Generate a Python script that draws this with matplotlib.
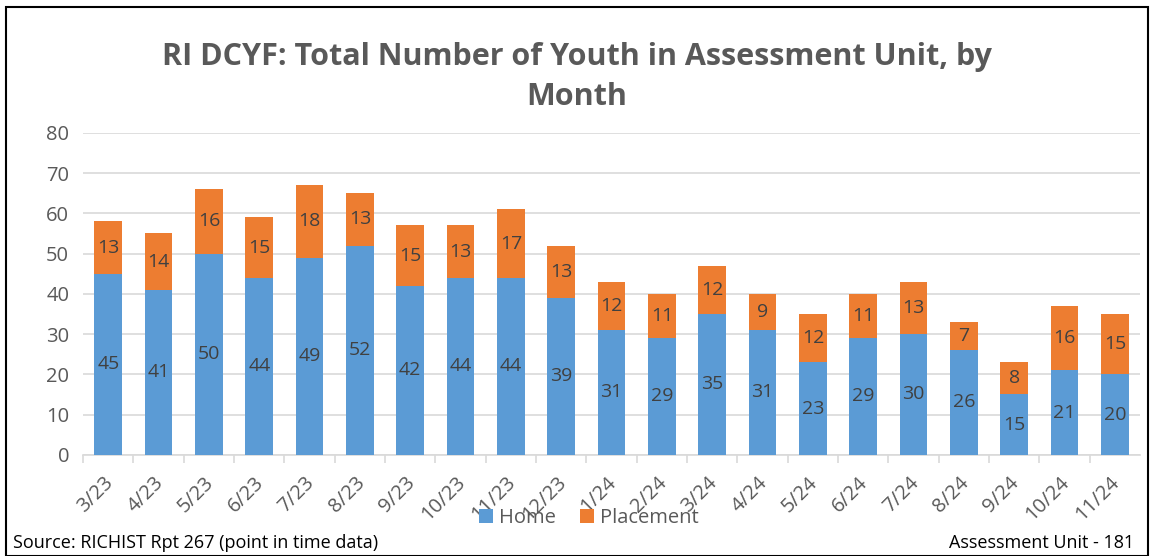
#!/usr/bin/env python3
"""RI DCYF assessment unit youth counts by month, stacked Home / Placement."""

import matplotlib
matplotlib.use("Agg")
import matplotlib.pyplot as plt
import matplotlib.transforms as mtransforms
from matplotlib.patches import Rectangle
import numpy as np

months = ["3/23", "4/23", "5/23", "6/23", "7/23", "8/23", "9/23", "10/23", "11/23",
          "12/23", "1/24", "2/24", "3/24", "4/24", "5/24", "6/24", "7/24", "8/24",
          "9/24", "10/24", "11/24"]
home = [45, 41, 50, 44, 49, 52, 42, 44, 44, 39, 31, 29, 35, 31, 23, 29, 30, 26, 15, 21, 20]
placement = [13, 14, 16, 15, 18, 13, 15, 13, 17, 13, 12, 11, 12, 9, 12, 11, 13, 7, 8, 16, 15]

BLUE = "#5B9BD5"
ORANGE = "#ED7D31"
GREY = "#595959"
LABEL = "#404040"

plt.rcParams["font.family"] = ["Open Sans", "DejaVu Sans"]

fig = plt.figure(figsize=(11.54, 5.56), dpi=100)
ax = fig.add_axes([0.072, 0.182, 0.916, 0.579])

x = np.arange(len(months))
w = 0.55
ax.bar(x, home, w, color=BLUE, label="Home", zorder=3)
ax.bar(x, placement, w, bottom=home, color=ORANGE, label="Placement", zorder=3)

for i in range(len(months)):
    ax.text(x[i], home[i] / 2, str(home[i]), ha="center", va="center",
            fontsize=14, color=LABEL, zorder=4)
    ax.text(x[i], home[i] + placement[i] / 2, str(placement[i]), ha="center",
            va="center", fontsize=14, color=LABEL, zorder=4)

ax.set_xlim(-0.5, len(months) - 0.5)
ax.set_ylim(0, 80)
ax.set_yticks(range(0, 81, 10))
ax.grid(axis="y", color="#D9D9D9", linewidth=1.2, zorder=0)
for s in ["top", "right", "left"]:
    ax.spines[s].set_visible(False)
ax.spines["bottom"].set_color("#D9D9D9")
ax.spines["bottom"].set_linewidth(1.2)

ax.set_xticks(x - 0.5, minor=True)
ax.tick_params(axis="x", which="minor", length=6, color="#D9D9D9", width=1.2)
ax.set_xticks(x)
ax.set_xticklabels(months, rotation=45, ha="right", rotation_mode="anchor")
ax.tick_params(axis="x", which="major", length=0, labelsize=14.5, labelcolor=GREY, pad=13)
ax.tick_params(axis="y", length=0, labelsize=14.5, labelcolor=GREY, pad=10)
shift = mtransforms.ScaledTranslation(-5 / 100, 0, fig.dpi_scale_trans)
for lbl in ax.get_xticklabels():
    lbl.set_transform(lbl.get_transform() + shift)

fig.text(0.5, 0.862, "RI DCYF: Total Number of Youth in Assessment Unit, by\nMonth",
         ha="center", va="center", fontsize=22, fontweight="bold", color=GREY,
         linespacing=1.45)

fig.legend(loc="center", bbox_to_anchor=(0.51, 0.068), ncol=2, frameon=False,
           fontsize=14.5, labelcolor=GREY, handlelength=0.7, handleheight=0.7,
           columnspacing=1.2, handletextpad=0.3)

fig.text(0.011, 0.023, "Source: RICHIST Rpt 267 (point in time data)", fontsize=13,
         color="black", ha="left", va="center")
fig.text(0.983, 0.023, "Assessment Unit - 181", fontsize=13, color="black",
         ha="right", va="center")

fig.add_artist(Rectangle((0.005, 0.0), 0.99, 0.987, transform=fig.transFigure,
                         fill=False, edgecolor="black", linewidth=1.5))

fig.savefig("out.png", dpi=100)
